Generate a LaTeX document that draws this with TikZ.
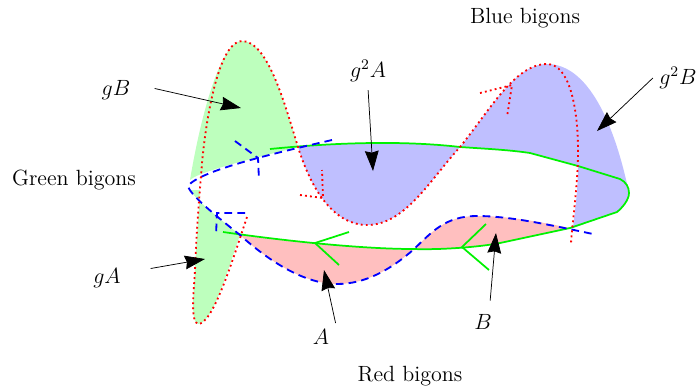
\documentclass[tikz,border=0pt]{standalone}
\usepackage{xcolor}
\usepackage{amsmath}
\usetikzlibrary{arrows.meta}
\colorlet{greenbigon}{green!26!white}
\colorlet{bluebigon}{blue!25!white}
\colorlet{redbigon}{red!25!white}
\colorlet{greenline}{green!95!black}
\tikzset{
  redcurve/.style={red, line width=1pt, dash pattern=on 1pt off 1.75pt},
  bluecurve/.style={blue, line width=1pt, dash pattern=on 4.2pt off 2.8pt},
  greencurve/.style={greenline, line width=0.95pt},
  bigarrow/.style={-{Stealth[length=11pt, width=7.5pt, inset=1pt]}, line width=0.4pt},
  lbl/.style={font=\large}
}
\begin{document}
\begin{tikzpicture}[x=0.545pt, y=-0.545pt]
    \useasboundingbox (0,0) rectangle (698,390);

    % bigons
    \fill[greenbigon] (190,180) .. controls (200,120) and (220,41) .. (242,41)
      .. controls (268,41) and (285,105) .. (298,147)
      .. controls (280,152) and (200,170) .. (190,180) -- cycle;
    \fill[greenbigon] (190,190) .. controls (196,200) and (215,215) .. (240,235)
      .. controls (230,262) and (213,324) .. (198,324)
      .. controls (190,322) and (194,290) .. (195,270)
      .. controls (197,230) and (199,210) .. (200,190) -- cycle;
    \fill[bluebigon] (298,147) .. controls (312,192) and (335,225) .. (367,225)
      .. controls (405,225) and (430,180) .. (460,147)
      .. controls (400,140) and (350,143) .. (298,147) -- cycle;
    \fill[bluebigon] (460,147) .. controls (490,110) and (515,64) .. (547,64)
      .. controls (592,64) and (617,135) .. (629,193)
      .. controls (629,200) and (622,208) .. (617,212) -- (573,228)
      .. controls (575,210) and (578,190) .. (578,166) -- (530,153)
      .. controls (510,150) and (490,149) .. (460,147) -- cycle;
    \fill[redbigon] (240,235) .. controls (270,262) and (305,284) .. (337,284)
      .. controls (365,284) and (390,270) .. (413,250)
      .. controls (370,249) and (300,243) .. (240,235) -- cycle;
    \fill[redbigon] (413,250) .. controls (432,232) and (445,216) .. (477,216)
      .. controls (510,216) and (540,222) .. (570,228) -- (500,243)
      .. controls (480,247) and (440,250) .. (413,250) -- cycle;

    % green curve
    \draw[greencurve] (270,149) .. controls (330,143) and (400,140) .. (460,147)
      .. controls (490,149) and (510,150) .. (530,153) -- (578,166) -- (620,179)
      .. controls (626,182) and (629,187) .. (629,193)
      .. controls (629,200) and (622,208) .. (617,212) -- (570,228) -- (500,243)
      .. controls (480,247) and (440,250) .. (413,249)
      .. controls (370,249) and (300,243) .. (223,232);
    \foreach \x/\y/\a/\b/\c/\d in {315/243/349/232/339/265, 462/247/486/224/489/270} {
      \draw[greencurve] (\a,\b) -- (\x,\y) -- (\c,\d);
    }

    % blue curve
    \draw[bluecurve] (332,140) .. controls (280,152) and (200,170) .. (188,186)
      .. controls (190,195) and (215,215) .. (240,235)
      .. controls (270,262) and (305,284) .. (337,284)
      .. controls (365,284) and (390,270) .. (413,250)
      .. controls (432,232) and (445,216) .. (477,216)
      .. controls (510,216) and (550,225) .. (593,234);
    \foreach \x/\y/\a/\b/\c/\d in {258/158/235/141/259/180, 217/213/245/213/216/235} {
      \draw[bluecurve] (\a,\b) -- (\x,\y) -- (\c,\d);
    }

    % red curve
    \draw[redcurve] (247,217) .. controls (232,262) and (213,324) .. (198,324)
      .. controls (190,322) and (194,290) .. (195,270)
      .. controls (197,220) and (200,190) .. (202,163)
      .. controls (208,100) and (222,41) .. (242,41)
      .. controls (268,41) and (285,105) .. (298,147)
      .. controls (312,192) and (335,225) .. (367,225)
      .. controls (405,225) and (430,180) .. (460,147)
      .. controls (490,110) and (515,64) .. (547,64)
      .. controls (570,64) and (578,110) .. (578,150)
      .. controls (578,185) and (573,215) .. (571,243);
    \foreach \x/\y/\a/\b/\c/\d in {323/198/300/195/322/170, 512/85/480/93/507/117} {
      \draw[redcurve] (\a,\b) -- (\x,\y) -- (\c,\d);
    }

    % labels
    \node[lbl] (bluebigons) at (525,18) {Blue bigons};
    \node[lbl] (greenbigons) at (74,180) {Green bigons};
    \node[lbl] (redbigons) at (410,376) {Red bigons};
    \node[lbl] (gB) at (116,90) {$gB$};
    \node[lbl] (gsqA) at (368,71) {$g^2A$};
    \node[lbl] (gsqB) at (678,78) {$g^2B$};
    \node[lbl] (gA) at (107,278) {$gA$};
    \node[lbl] (A) at (321,337) {$A$};
    \node[lbl] (B) at (483,322) {$B$};

    % arrows
    \coordinate (gBtip) at (241,108);
    \coordinate (gsqAtip) at (373,171);
    \coordinate (gsqBtip) at (597,131);
    \coordinate (gAtip) at (205,259);
    \coordinate (Atip) at (324,270);
    \coordinate (Btip) at (496,233);
    \draw[bigarrow, shorten <=10pt] (gB.15) -- (gBtip);
    \draw[bigarrow, shorten <=1pt] (gsqA.south) -- (gsqAtip);
    \draw[bigarrow] (gsqB.west) -- (gsqBtip);
    \draw[bigarrow, shorten <=13pt] (gA.15) -- (gAtip);
    \draw[bigarrow] (A.north east) -- (Atip);
    \draw[bigarrow, shorten <=4pt] (B.65) -- (Btip);
  \end{tikzpicture}
\end{document}
